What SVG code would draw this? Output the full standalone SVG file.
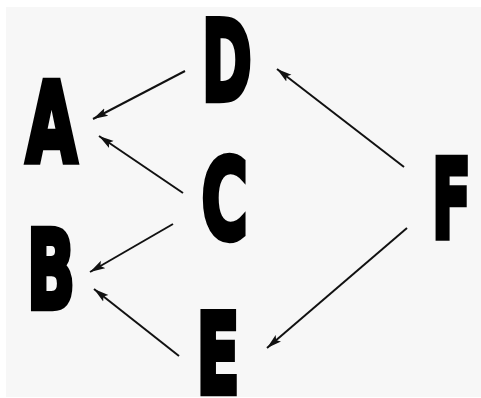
<svg xmlns="http://www.w3.org/2000/svg" width="481" height="398" viewBox="0 0 481 398">
<defs>
<style>
.lbl{font-family:"DejaVu Sans","Liberation Sans",sans-serif;font-weight:bold;font-size:60px;fill:#000;stroke:#000;stroke-width:3.5;stroke-linejoin:miter;text-anchor:middle}
.edge{stroke:#111;stroke-width:2;fill:none;marker-end:url(#ah)}
</style>
<marker id="ah" markerUnits="userSpaceOnUse" markerWidth="18" markerHeight="10" refX="15" refY="5" orient="auto">
<path d="M0,0.8 L15,5 L0,9.2 L3,5 z" fill="#111"/>
</marker>
</defs>
<rect x="0" y="0" width="481" height="398" fill="#fff"/>
<rect x="6" y="7" width="475" height="390" fill="#f7f7f7"/>
<g id="connectors">
<line class="edge" x1="185" y1="71" x2="93" y2="119"/>
<line class="edge" x1="183" y1="193" x2="99" y2="136"/>
<line class="edge" x1="173" y1="224" x2="90" y2="272"/>
<line class="edge" x1="179" y1="356" x2="94" y2="289"/>
<line class="edge" x1="404" y1="167" x2="277" y2="69"/>
<line class="edge" x1="407" y1="228" x2="267" y2="348"/>
</g>
<g id="node-A"><text class="lbl" transform="translate(51.5,161.5) scale(1.1,1.85)">A</text></g>
<g id="node-B"><text class="lbl" transform="translate(51,307.5) scale(1.05,1.8)">B</text></g>
<g id="node-C"><text class="lbl" transform="translate(224.5,238) scale(1.05,1.85)">C</text></g>
<g id="node-D"><text class="lbl" transform="translate(227,99.5) scale(1.0,1.83)">D</text></g>
<g id="node-E"><text class="lbl" transform="translate(218,392.5) scale(1.05,1.83)">E</text></g>
<g id="node-F"><text class="lbl" transform="translate(451.5,237.5) scale(0.95,1.8)">F</text></g>
</svg>
